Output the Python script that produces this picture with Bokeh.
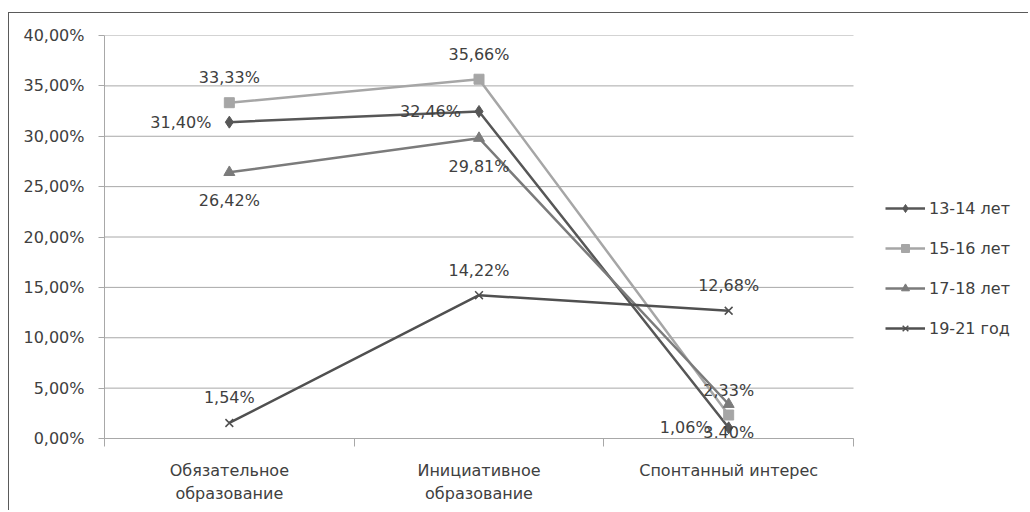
from bokeh.plotting import figure
from bokeh.models import (Range1d, LinearAxis, FixedTicker, Legend,
                          LegendItem, ColumnDataSource)
from bokeh.core.properties import value
from bokeh.embed import file_html
from bokeh.resources import INLINE

# ---------------- data ----------------
categories = ["Обязательное\nобразование", "Инициативное\nобразование", "Спонтанный интерес"]
series_names = ["13-14 лет", "15-16 лет", "17-18 лет", "19-21 год"]
s_13_14 = [31.40, 32.46, 1.06]
s_15_16 = [33.33, 35.66, 2.33]
s_17_18 = [26.42, 29.81, 3.40]
s_19_21 = [1.54, 14.22, 12.68]
y_ticks = [0, 5, 10, 15, 20, 25, 30, 35, 40]
y_tick_labels = ["0,00%", "5,00%", "10,00%", "15,00%", "20,00%", "25,00%", "30,00%", "35,00%", "40,00%"]

# ---------------- style / layout ----------------
FONT = "DejaVu Sans"
FS = "16px"
TXT = "#404040"
GRID = "#a8a8a8"

W, H = 1020, 498
LEFT, TOP, BOTTOM = 95, 22, 73
PLOT_AREA_W = 749                       # width of the plotting area (categories part)
frame_w = W - LEFT                      # frame extends to the right edge (legend lives there)

n = len(categories)
cat_pos = [i + 0.5 for i in range(n)]   # category centres on the x scale
bounds = list(range(n + 1))             # category boundaries (tick marks)
x_end = n * frame_w / PLOT_AREA_W

p = figure(width=W, height=H, x_range=Range1d(0, x_end),
           y_range=Range1d(y_ticks[0], y_ticks[-1]), output_backend="svg", toolbar_location=None,
           x_axis_location=None, y_axis_location="left",
           min_border_left=LEFT, min_border_right=0, min_border_top=TOP, min_border_bottom=BOTTOM)
p.styles = {"border-top": "1px solid #5a5a5a", "border-left": "1px solid #5a5a5a",
            "margin-top": "12px", "margin-left": "8px"}
p.outline_line_color = None
p.background_fill_color = "white"
p.border_fill_color = "white"
p.xgrid.visible = False
p.ygrid.visible = False

# horizontal gridlines limited to the category area
p.segment(x0=[0] * len(y_ticks), x1=[n] * len(y_ticks), y0=y_ticks, y1=y_ticks,
          line_color=GRID, line_width=1)

ya = p.yaxis[0]
ya.ticker = FixedTicker(ticks=y_ticks)
ya.major_label_overrides = {t: l for t, l in zip(y_ticks, y_tick_labels)}
ya.major_tick_out = 6
ya.major_tick_in = 0
ya.minor_tick_line_color = None
ya.axis_line_color = GRID
ya.major_tick_line_color = GRID
ya.major_label_standoff = 14
ya.major_label_text_font = FONT
ya.major_label_text_font_size = FS
ya.major_label_text_color = TXT

# boundary ticks axis
bax = LinearAxis(ticker=FixedTicker(ticks=bounds), bounds=(0, n),
                 major_label_overrides={b: "" for b in bounds},
                 major_tick_out=8, major_tick_in=0, minor_tick_line_color=None,
                 axis_line_color=GRID, major_tick_line_color=GRID,
                 major_label_text_font_size="1px", major_label_standoff=0)
p.add_layout(bax, "below")

# category labels axis
cax = LinearAxis(ticker=FixedTicker(ticks=cat_pos),
                 major_label_overrides={c: l for c, l in zip(cat_pos, categories)},
                 major_tick_line_color=None, axis_line_color=None, minor_tick_line_color=None,
                 major_label_standoff=8, major_label_text_font=FONT,
                 major_label_text_font_size=FS, major_label_text_color=TXT,
                 major_label_text_line_height=1.25)
p.add_layout(cax, "below")

series = [s_13_14, s_15_16, s_17_18, s_19_21]
colors = ["#575757", "#a6a6a6", "#7b7b7b", "#505050"]
markers = ["diamond", "square", "triangle", "x"]
msizes = [12, 10, 11, 11]
label_pos = ["left", "above", "below", "above"]

items = []
for name, vals, col, mk, ms, pos in zip(series_names, series, colors, markers, msizes, label_pos):
    src = ColumnDataSource(dict(x=cat_pos, y=vals,
                                t=[f"{v:.2f}%".replace(".", ",") for v in vals]))
    lr = p.line("x", "y", source=src, line_color=col, line_width=2.5)
    if mk == "x":
        sr = p.scatter("x", "y", source=src, marker=mk, size=ms, line_color=col, line_width=1.5)
    else:
        sr = p.scatter("x", "y", source=src, marker=mk, size=ms, fill_color=col, line_color=col)
    if pos == "left":
        kw = dict(x_offset=-18, y_offset=0, text_align="right")
    elif pos == "above":
        kw = dict(x_offset=0, y_offset=-25, text_align="center")
    else:
        kw = dict(x_offset=0, y_offset=28, text_align="center")
    p.text("x", "y", text="t", source=src, text_baseline="middle",
           text_font=value(FONT), text_font_size=FS, text_color=TXT, **kw)
    items.append(LegendItem(label=name, renderers=[lr, sr]))

legend = Legend(items=items, location=(PLOT_AREA_W + 32, 100), glyph_width=40, glyph_height=20,
                label_height=20, spacing=20, padding=0, margin=0, label_standoff=4,
                border_line_color=None, background_fill_alpha=0,
                label_text_font=FONT, label_text_font_size=FS, label_text_color=TXT)
p.add_layout(legend)

open("out.html", "w").write(file_html(p, INLINE))
